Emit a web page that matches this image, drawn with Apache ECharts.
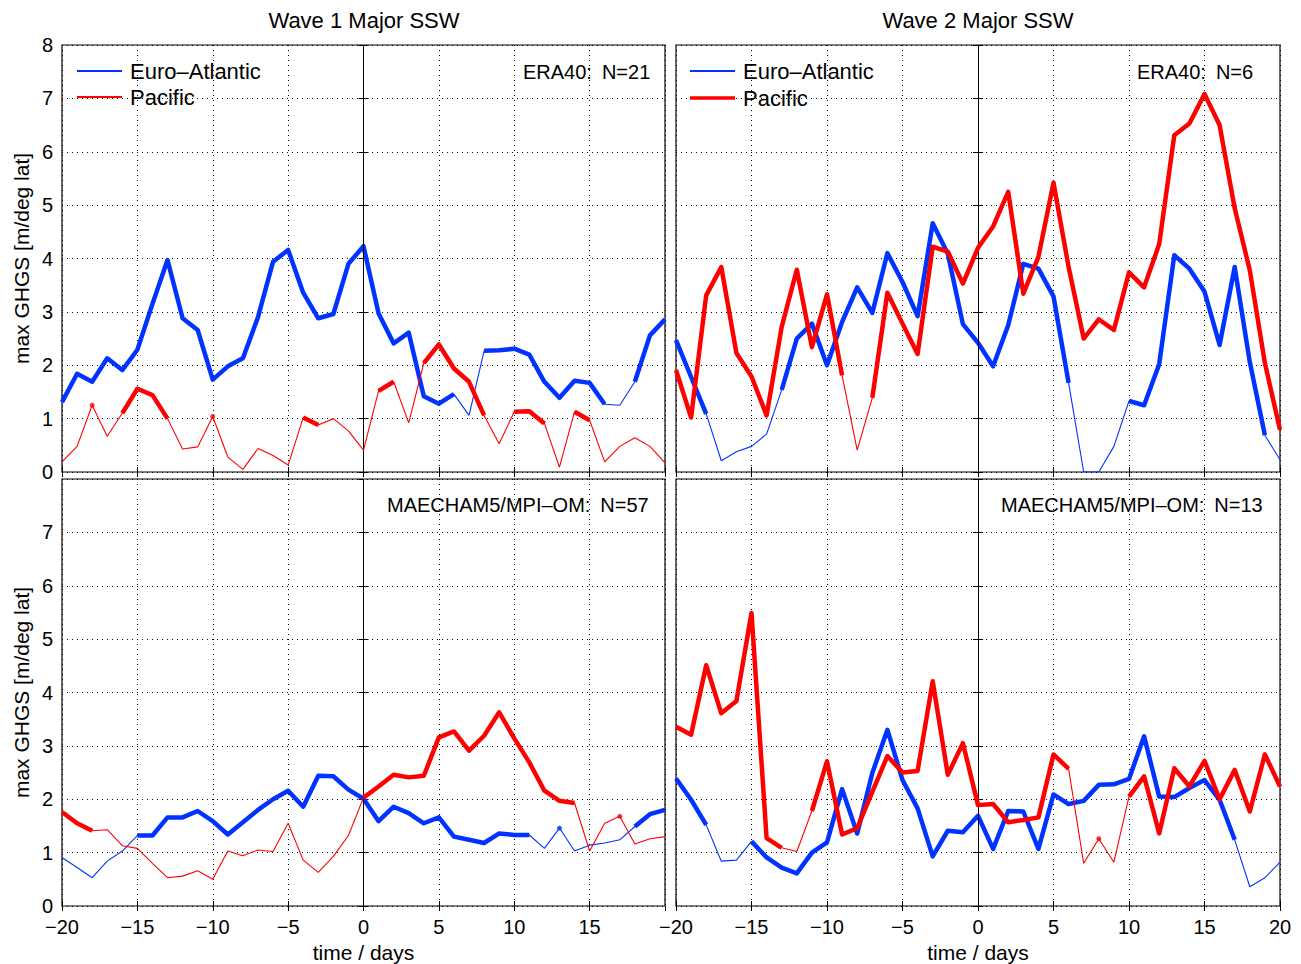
<!DOCTYPE html>
<html>
<head>
<meta charset="utf-8">
<script src="https://cdn.jsdelivr.net/npm/echarts@6/dist/echarts.min.js"></script>
<style>
  html, body { margin: 0; padding: 0; background: #fff; }
  #chart { width: 1301px; height: 964px; }
</style>
</head>
<body>
<div id="chart"></div>
<script>
// Lag in days relative to the central date of the major SSW
const days = [-20,-19,-18,-17,-16,-15,-14,-13,-12,-11,-10,-9,-8,-7,-6,-5,-4,-3,-2,-1,0,
              1,2,3,4,5,6,7,8,9,10,11,12,13,14,15,16,17,18,19,20];

// Wave 1 major SSW, ERA40 (N=21): max GHGS [m/deg lat]
const w1EraEuro = [1.31,1.84,1.69,2.13,1.91,2.29,3.15,3.97,2.88,2.66,1.73,1.98,2.13,2.90,3.94,4.16,3.36,2.88,2.96,3.90,4.23,
                   2.97,2.41,2.61,1.42,1.28,1.46,1.06,2.27,2.28,2.31,2.20,1.69,1.39,1.71,1.67,1.27,1.25,1.69,2.56,2.86];
const w1EraEuroSig = [1,1,1,1,1,1,1,1,1,1,1,1,1,1,1,1,1,1,1,1,1,
                      1,1,1,1,1,1,0,1,1,1,1,1,1,1,1,1,0,1,1,1];
const w1EraPac = [0.19,0.48,1.25,0.67,1.10,1.56,1.44,1.00,0.43,0.47,1.04,0.28,0.05,0.44,0.31,0.13,1.02,0.88,1.00,0.77,0.41,
                  1.52,1.69,0.92,2.04,2.39,1.94,1.69,1.06,0.53,1.13,1.14,0.91,0.09,1.13,0.97,0.19,0.48,0.64,0.48,0.17];
const w1EraPacSig = [0,0,1,0,1,1,1,1,0,0,1,0,0,0,0,0,1,1,0,0,0,
                     1,1,0,1,1,1,1,1,0,1,1,1,0,1,1,0,0,0,0,0];

// Wave 2 major SSW, ERA40 (N=6)
const w2EraEuro = [2.47,1.78,1.09,0.21,0.38,0.48,0.71,1.54,2.50,2.78,2.00,2.81,3.46,2.98,4.10,3.56,2.92,4.66,4.09,2.77,2.42,
                   1.98,2.75,3.90,3.81,3.29,1.67,0.00,0.00,0.48,1.33,1.25,2.02,4.06,3.81,3.38,2.38,3.84,2.06,0.69,0.23];
const w2EraEuroSig = [1,1,1,0,0,0,0,1,1,1,1,1,1,1,1,1,1,1,1,1,1,
                      1,1,1,1,1,1,0,0,0,1,1,1,1,1,1,1,1,1,1,0];
const w2EraPac = [1.91,1.02,3.31,3.84,2.23,1.79,1.06,2.72,3.79,2.34,3.33,1.81,0.41,1.39,3.36,2.78,2.21,4.22,4.13,3.53,4.20,
                  4.60,5.25,3.34,4.03,5.42,3.84,2.50,2.86,2.66,3.74,3.46,4.27,6.31,6.53,7.08,6.50,4.94,3.78,2.04,0.79];
const w2EraPacSig = [1,1,1,1,1,1,1,1,1,1,1,1,0,1,1,1,1,1,1,1,1,
                     1,1,1,1,1,1,1,1,1,1,1,1,1,1,1,1,1,1,1,1];

// Wave 1 major SSW, MAECHAM5/MPI-OM (N=57)
const w1ModEuro = [0.91,0.72,0.53,0.84,1.03,1.32,1.32,1.66,1.66,1.78,1.59,1.34,1.57,1.80,2.00,2.16,1.86,2.44,2.43,2.18,2.01,
                   1.59,1.86,1.74,1.55,1.66,1.30,1.24,1.18,1.36,1.33,1.33,1.08,1.46,1.03,1.14,1.18,1.24,1.49,1.72,1.80];
const w1ModEuroSig = [0,0,0,0,0,1,1,1,1,1,1,1,1,1,1,1,1,1,1,1,1,
                      1,1,1,1,1,1,1,1,1,1,1,0,1,0,0,0,0,1,1,1];
const w1ModPac = [1.76,1.55,1.41,1.43,1.13,1.08,0.80,0.53,0.56,0.66,0.50,1.03,0.94,1.05,1.02,1.55,0.86,0.63,0.93,1.32,2.03,
                  2.24,2.46,2.41,2.44,3.16,3.27,2.91,3.19,3.63,3.14,2.69,2.16,1.97,1.93,1.03,1.55,1.68,1.16,1.26,1.30];
const w1ModPacSig = [1,1,1,0,0,0,0,0,0,0,0,0,0,0,0,0,0,0,0,0,1,
                     1,1,1,1,1,1,1,1,1,1,1,1,1,1,0,0,1,0,0,0];

// Wave 2 major SSW, MAECHAM5/MPI-OM (N=13)
const w2ModEuro = [2.39,1.99,1.52,0.84,0.86,1.21,0.91,0.72,0.61,1.00,1.19,2.19,1.36,2.49,3.30,2.36,1.83,0.93,1.41,1.38,1.69,
                   1.07,1.78,1.77,1.07,2.09,1.91,1.97,2.27,2.28,2.38,3.18,2.05,2.04,2.21,2.36,1.99,1.24,0.36,0.53,0.82];
const w2ModEuroSig = [1,1,1,0,0,1,1,1,1,1,1,1,1,1,1,1,1,1,1,1,1,
                      1,1,1,1,1,1,1,1,1,1,1,1,1,1,1,1,1,0,0,0];
const w2ModPac = [3.36,3.21,4.51,3.61,3.84,5.49,1.27,1.09,1.02,1.78,2.71,1.34,1.46,2.14,2.81,2.50,2.53,4.21,2.46,3.05,1.89,
                  1.91,1.57,1.61,1.66,2.84,2.57,0.80,1.26,0.82,2.05,2.43,1.36,2.58,2.24,2.72,2.00,2.55,1.77,2.84,2.24];
const w2ModPacSig = [1,1,1,1,1,1,1,1,0,1,1,1,1,1,1,1,1,1,1,1,1,
                     1,1,1,1,1,1,0,1,0,1,1,1,1,1,1,1,1,1,1,1];

const columnTitles = ['Wave 1 Major SSW', 'Wave 2 Major SSW'];
const panelLabels = ['ERA40:\u2002N=21', 'ERA40:\u2002N=6', 'MAECHAM5/MPI\u2013OM:\u2002N=57', 'MAECHAM5/MPI\u2013OM:\u2002N=13'];
const regionNames = ['Euro\u2013Atlantic', 'Pacific'];
const yAxisTitle = 'max GHGS [m/deg lat]';
const xAxisTitle = 'time / days';

const BLUE = '#0033ff';
const RED = '#ff0000';
const FONT = '"Liberation Sans", Arial, Helvetica, sans-serif';
const NARROW = '"Liberation Sans Narrow", "Arial Narrow", "Liberation Sans", Arial, sans-serif';

const panels = [
  { grid: { left: 62,  top: 45,  width: 603, height: 427 }, euro: w1EraEuro, euroSig: w1EraEuroSig, pac: w1EraPac, pacSig: w1EraPacSig, xLabels: false, yLabels: true,  yMax: true,  xMax: true,  bottomRow: false },
  { grid: { left: 676, top: 45,  width: 604, height: 427 }, euro: w2EraEuro, euroSig: w2EraEuroSig, pac: w2EraPac, pacSig: w2EraPacSig, xLabels: false, yLabels: false, yMax: true,  xMax: true,  bottomRow: false },
  { grid: { left: 62,  top: 479, width: 603, height: 427 }, euro: w1ModEuro, euroSig: w1ModEuroSig, pac: w1ModPac, pacSig: w1ModPacSig, xLabels: true,  yLabels: true,  yMax: false, xMax: false, bottomRow: true },
  { grid: { left: 676, top: 479, width: 604, height: 427 }, euro: w2ModEuro, euroSig: w2ModEuroSig, pac: w2ModPac, pacSig: w2ModPacSig, xLabels: true,  yLabels: false, yMax: false, xMax: true,  bottomRow: true }
];

const signed = v => (v < 0 ? '\u2212' + (-v) : String(v));

// full series as a thin line
const fullLine = (vals) => vals.map((v, i) => [days[i], v]);
// significant stretches only; gaps break the thick line
const sigLine = (vals, sig) => vals.map((v, i) => [days[i], sig[i] ? v : null]);
// significant days with no significant neighbour are shown as dots
const sigDots = (vals, sig) => vals
  .map((v, i) => ({ i, v }))
  .filter(o => sig[o.i] && !sig[o.i - 1] && !sig[o.i + 1])
  .map(o => [days[o.i], o.v]);

const grids = [], xAxes = [], yAxes = [], series = [];

panels.forEach((p, k) => {
  grids.push(Object.assign({ show: true, borderColor: '#000', borderWidth: 1.2, backgroundColor: 'transparent' }, p.grid));

  const tick = { show: true, inside: true, length: 5, lineStyle: { color: '#000', width: 1 } };
  const dotted = { show: true, lineStyle: { color: '#000', width: 1, type: [1, 4] } };

  xAxes.push({
    type: 'value', gridIndex: k, min: -20, max: 20, interval: 5, position: 'bottom',
    axisLine: { show: false }, axisTick: tick, splitLine: dotted,
    axisLabel: { show: p.xLabels, showMaxLabel: p.xMax, color: '#000', fontSize: 20, lineHeight: 16, fontFamily: NARROW, margin: 13, formatter: signed },
    name: p.xLabels ? xAxisTitle : '', nameLocation: 'middle', nameGap: 36,
    nameTextStyle: { color: '#000', fontSize: 21, fontFamily: NARROW }
  });
  xAxes.push({
    type: 'value', gridIndex: k, min: -20, max: 20, interval: 5, position: 'top',
    axisLine: { show: false }, axisTick: tick, splitLine: { show: false }, axisLabel: { show: false }
  });
  yAxes.push({
    type: 'value', gridIndex: k, min: 0, max: 8, interval: 1, position: 'left',
    axisLine: { show: false }, axisTick: tick, splitLine: dotted,
    axisLabel: { show: p.yLabels, showMaxLabel: p.yMax, color: '#000', fontSize: 20, lineHeight: 16, fontFamily: NARROW, margin: 9,
                 padding: p.bottomRow ? [0, 0, 6, 0] : 0 },
    name: p.yLabels ? yAxisTitle : '', nameLocation: 'middle', nameGap: 30,
    nameTextStyle: { color: '#000', fontSize: 21, fontFamily: NARROW }
  });
  yAxes.push({
    type: 'value', gridIndex: k, min: 0, max: 8, interval: 1, position: 'right',
    axisLine: { show: false }, axisTick: tick, splitLine: { show: false }, axisLabel: { show: false }
  });

  const ax = { xAxisIndex: 2 * k, yAxisIndex: 2 * k };
  const lineBase = Object.assign({ type: 'line', symbol: 'none', silent: true, connectNulls: false }, ax);

  [[p.euro, p.euroSig, BLUE, regionNames[0]], [p.pac, p.pacSig, RED, regionNames[1]]].forEach(([vals, sig, col, name], r) => {
    const thin = Object.assign({}, lineBase, {
      name, data: fullLine(vals), z: 3 + r * 3,
      lineStyle: { color: col, width: 1.1 }, itemStyle: { color: col }
    });
    if (r === 0) {
      thin.markLine = {
        silent: true, symbol: ['none', 'none'], label: { show: false },
        lineStyle: { color: '#000', width: 1, type: 'solid' },
        data: [{ xAxis: 0 }]
      };
    }
    series.push(thin);
    series.push(Object.assign({}, lineBase, {
      name, data: sigLine(vals, sig), z: 4 + r * 3,
      lineStyle: { color: col, width: 4.5, cap: 'butt', join: 'round' }, itemStyle: { color: col }
    }));
    series.push(Object.assign({ type: 'scatter', name, silent: true, symbol: 'circle', symbolSize: 5, z: 5 + r * 3,
      itemStyle: { color: col }, data: sigDots(vals, sig) }, ax));
  });
});

const legendBase = {
  orient: 'vertical', padding: 0, itemWidth: 45, itemGap: 4, icon: 'rect',
  textStyle: { color: '#000', fontSize: 22, fontFamily: FONT, lineHeight: 22, padding: [0, 0, 0, 3] },
  selectedMode: false
};

const option = {
  animation: false,
  backgroundColor: '#fff',
  grid: grids,
  xAxis: xAxes,
  yAxis: yAxes,
  legend: [
    Object.assign({}, legendBase, { left: 77, top: 60, itemHeight: 2,
      data: [{ name: regionNames[0], itemStyle: { color: BLUE, borderWidth: 0 } },
             { name: regionNames[1], itemStyle: { color: RED, borderWidth: 0 } }] }),
    Object.assign({}, legendBase, { left: 690, top: 60, itemHeight: 2,
      data: [{ name: regionNames[0], itemStyle: { color: BLUE, borderWidth: 0 } }] }),
    Object.assign({}, legendBase, { left: 690, top: 87, itemHeight: 3.5,
      data: [{ name: regionNames[1], itemStyle: { color: RED, borderWidth: 0 } }] })
  ],
  graphic: [
    { type: 'text', x: 364, y: 20, style: { text: columnTitles[0], font: '22px ' + FONT, fill: '#000', align: 'center', verticalAlign: 'middle' } },
    { type: 'text', x: 978, y: 20, style: { text: columnTitles[1], font: '22px ' + FONT, fill: '#000', align: 'center', verticalAlign: 'middle' } },
    { type: 'text', x: 523, y: 72, style: { text: panelLabels[0], font: '20px ' + FONT, fill: '#000', align: 'left', verticalAlign: 'middle' } },
    { type: 'text', x: 1137, y: 72, style: { text: panelLabels[1], font: '20px ' + FONT, fill: '#000', align: 'left', verticalAlign: 'middle' } },
    { type: 'text', x: 387, y: 505, style: { text: panelLabels[2], font: '20px ' + FONT, fill: '#000', align: 'left', verticalAlign: 'middle' } },
    { type: 'text', x: 1001, y: 505, style: { text: panelLabels[3], font: '20px ' + FONT, fill: '#000', align: 'left', verticalAlign: 'middle' } }
  ],
  series: series
};

const chart = echarts.init(document.getElementById('chart'), null, { renderer: 'svg', width: 1301, height: 964 });
chart.setOption(option);
</script>
</body>
</html>
